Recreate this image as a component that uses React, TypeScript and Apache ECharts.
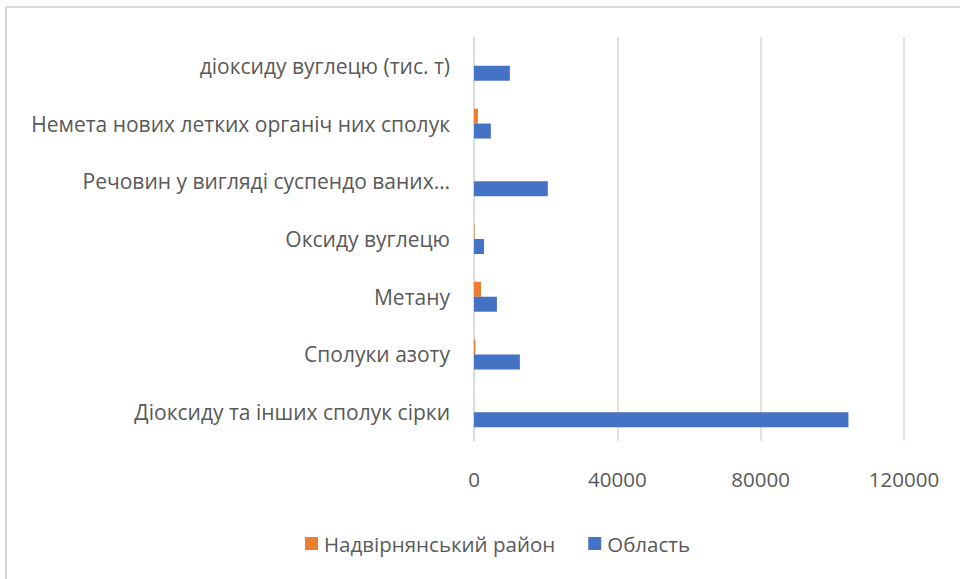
import React, { useEffect, useRef } from "react";
import * as echarts from "echarts";

const categories = [
  "Діоксиду та інших сполук сірки",
  "Сполуки азоту",
  "Метану",
  "Оксиду вуглецю",
  "Речовин у вигляді суспендо ваних…",
  "Немета нових летких органіч них сполук",
  "діоксиду вуглецю (тис. т)",
];
const districtName = "Надвірнянський район";
const regionName = "Область";
const districtValues = [0, 400, 1950, 150, 0, 1100, 0];
const regionValues = [104500, 12800, 6400, 2800, 20600, 4700, 10000];
const xTicks = { min: 0, max: 120000, interval: 40000 };

const FONT = "'Open Sans', 'Noto Sans', sans-serif";
const TEXT = "#595959";

export default function App() {
  const ref = useRef<HTMLDivElement>(null);
  useEffect(() => {
    document.body.style.margin = "0";
    const chart = echarts.init(ref.current!, null, { renderer: "svg" });
    chart.setOption({
      animation: false,
      backgroundColor: "#ffffff",
      graphic: [
        {
          type: "rect",
          shape: { x: 6, y: 7, width: 1000, height: 620 },
          style: { fill: "none", stroke: "#d9d9d9", lineWidth: 2 },
          silent: true,
        },
      ],
      legend: {
        data: [districtName, regionName],
        bottom: 20,
        left: 300,
        itemWidth: 13,
        itemHeight: 13,
        itemGap: 33,
        icon: "rect",
        textStyle: { color: TEXT, fontSize: 20.5, fontFamily: FONT, padding: [0, 0, 0, 1] },
      },
      grid: { left: 474, right: 56, top: 37, bottom: 138, containLabel: false },
      xAxis: {
        type: "value",
        min: xTicks.min,
        max: xTicks.max,
        interval: xTicks.interval,
        axisLine: { show: false },
        axisTick: { show: false },
        axisLabel: {
          color: TEXT,
          fontSize: 20.5,
          fontFamily: FONT,
          margin: 27,
          formatter: (v: number) => String(v),
        },
        splitLine: { lineStyle: { color: "#d9d9d9", width: 1.5 } },
      },
      yAxis: {
        type: "category",
        data: categories,
        axisLine: { show: true, lineStyle: { color: "#d9d9d9", width: 1.5 } },
        axisTick: { show: false },
        axisLabel: { color: TEXT, fontSize: 21, fontFamily: FONT, margin: 24 },
      },
      series: [
        {
          name: districtName,
          type: "bar",
          data: districtValues,
          barWidth: 15,
          barGap: "0%",
          itemStyle: { color: "#ED7D31" },
        },
        {
          name: regionName,
          type: "bar",
          data: regionValues,
          barWidth: 15,
          barGap: "0%",
          itemStyle: { color: "#4472C4" },
        },
      ],
    });
    return () => chart.dispose();
  }, []);
  return <div ref={ref} style={{ width: 960, height: 579 }} />;
}
